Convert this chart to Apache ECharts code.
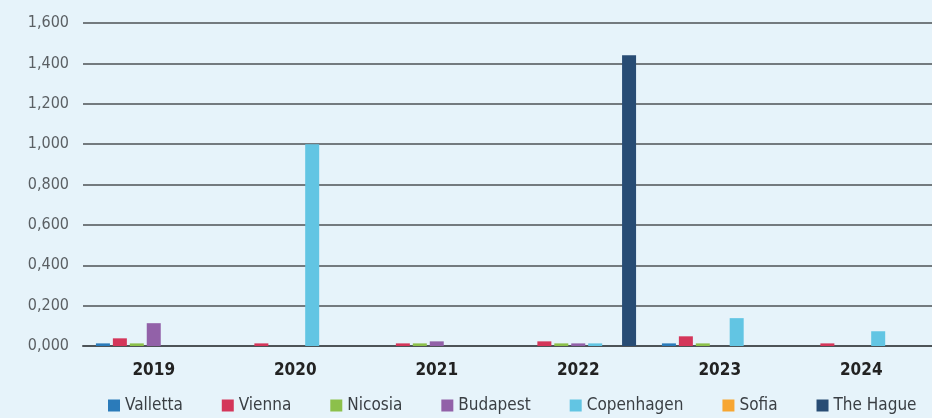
<!DOCTYPE html>
<html><head><meta charset="utf-8">
<script src="https://cdn.jsdelivr.net/npm/echarts@6/dist/echarts.min.js"></script>
<style>html,body{margin:0;padding:0;background:#e6f3fa;}#c{width:932px;height:418px;}</style>
</head><body><div id="c"></div>
<script>
const categories = ['2019','2020','2021','2022','2023','2024'];
const seriesNames = ['Valletta','Vienna','Nicosia','Budapest','Copenhagen','Sofia','The Hague'];
const valletta   = [0.013, 0, 0, 0, 0.013, 0];
const vienna     = [0.038, 0.013, 0.013, 0.023, 0.048, 0.013];
const nicosia    = [0.013, 0, 0.013, 0.013, 0.013, 0];
const budapest   = [0.113, 0, 0.023, 0.013, 0, 0];
const copenhagen = [0, 1.0, 0, 0.013, 0.138, 0.073];
const sofia      = [0, 0, 0, 0, 0, 0];
const theHague   = [0, 0, 0, 1.44, 0, 0];
const yTicks = [0, 0.2, 0.4, 0.6, 0.8, 1.0, 1.2, 1.4, 1.6];
const colors = ['#2b7bba','#d4365a','#8cc04b','#9261a8','#62c5e3','#f7a632','#284c74'];
const data = [valletta, vienna, nicosia, budapest, copenhagen, sofia, theHague];
const font = '"Liberation Sans Narrow","DejaVu Sans Condensed",sans-serif';

const chart = echarts.init(document.getElementById('c'));
chart.setOption({
  backgroundColor: '#e6f3fa',
  animation: false,
  color: colors,
  grid: {left: 83, right: 0, top: 23, bottom: 72},
  legend: {
    top: 397, left: 108, itemWidth: 12, itemHeight: 12, itemGap: 39, icon: 'rect', padding: 0,
    textStyle: {fontFamily: font, fontSize: 17, color: '#3a3f44'},
    data: seriesNames
  },
  xAxis: {
    type: 'category', data: categories,
    axisLine: {lineStyle: {color: '#4d5357', width: 2}, z: 10},
    axisTick: {show: false},
    axisLabel: {fontFamily: font, fontSize: 17, fontWeight: 'bold', color: '#222', margin: 16}
  },
  yAxis: {
    type: 'value', min: yTicks[0], max: yTicks[yTicks.length - 1], interval: 0.2,
    axisLine: {show: false}, axisTick: {show: false},
    splitLine: {lineStyle: {color: '#737a7e', width: 2}},
    axisLabel: {fontFamily: font, fontSize: 16, color: '#5a5f63', margin: 14,
      formatter: v => v.toFixed(3).replace('.', ',')}
  },
  series: seriesNames.map((n, i) => ({
    name: n, type: 'bar', data: data[i], barWidth: 14, barGap: '21%'
  }))
});
</script></body></html>
